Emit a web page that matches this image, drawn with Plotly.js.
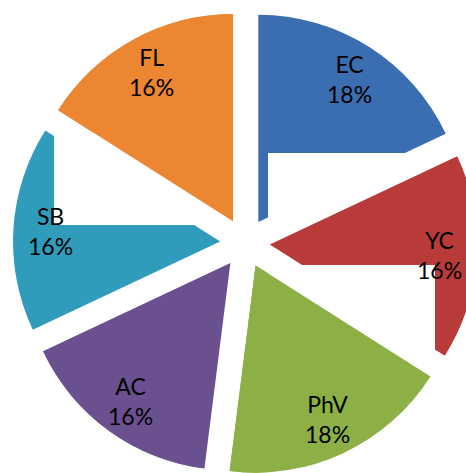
<!DOCTYPE html>
<html><head><meta charset="utf-8">
<script src="https://cdn.plot.ly/plotly-3.0.1.min.js"></script>
<style>
html,body{margin:0;padding:0;overflow:hidden;background:#fff;width:466px;height:473px;position:relative}
.layer{position:absolute;left:0;top:0;width:490px;height:490px}
</style>
</head><body>
<div id="base" class="layer"></div>
<div id="mid" class="layer"></div>
<div id="top" class="layer"></div>
<script>
// ---- data ----
const categories = ['EC', 'YC', 'PhV', 'AC', 'SB', 'FL'];
const values = [18, 16, 18, 16, 16, 16];
const colors = ['#3b6eb1', '#b83b39', '#8cb045', '#6b5090', '#2f9cbb', '#ec8630'];

// ---- style / geometry ----
const PULL = 0.12;
const LABEL_R = 0.82;
const CLEAR = 'rgba(0,0,0,0)';
const total = values.reduce((a, b) => a + b, 0);

function pieTrace(visibleSet) {
  return {
    type: 'pie',
    labels: categories,
    values: values,
    sort: false,
    direction: 'clockwise',
    rotation: 0,
    pull: values.map(() => PULL),
    marker: {
      colors: categories.map((c, i) => visibleSet.includes(c) ? colors[i] : CLEAR),
      line: {width: 0}
    },
    textinfo: 'none',
    hoverinfo: 'none',
    showlegend: false
  };
}

function baseLayout(bg, shapes, annotations) {
  return {
    width: 490, height: 490,
    margin: {l: 13, r: 13, t: 11, b: 15, pad: 0},
    paper_bgcolor: bg, plot_bgcolor: bg,
    showlegend: false,
    shapes: shapes || [],
    annotations: annotations || []
  };
}

function rect(x0, x1, y0, y1) {
  // pixel coords in the 464px plot square (origin at page px 13,11)
  return {
    type: 'rect', xref: 'paper', yref: 'paper', layer: 'below',
    x0: (x0 - 13) / 464, x1: (x1 - 13) / 464,
    y0: 1 - (y1 - 11) / 464, y1: 1 - (y0 - 11) / 464,
    fillcolor: '#ffffff', line: {width: 0}
  };
}

// label annotations, placed along each slice bisector
const rPaper = 1 / (2 * (1 + PULL));
let cum = 0;
const annotations = categories.map((c, i) => {
  const mid = (cum + values[i] / 2) / total * 2 * Math.PI;
  cum += values[i];
  const dist = (PULL + LABEL_R) * rPaper;
  return {
    xref: 'paper', yref: 'paper',
    x: 0.5 + dist * Math.sin(mid),
    y: 0.5 + dist * Math.cos(mid),
    xanchor: 'center', yanchor: 'middle',
    showarrow: false,
    text: c + '<br>' + Math.round(values[i] / total * 100) + '%',
    font: {family: 'Lato, "Open Sans", sans-serif', size: 23, color: '#000'}
  };
});

const cfg = {staticPlot: true, displayModeBar: false};

Plotly.newPlot('base', [pieTrace(categories)], baseLayout('#ffffff'), cfg);
Plotly.newPlot('mid', [pieTrace(['YC', 'FL'])],
  baseLayout(CLEAR, [rect(268, 500, 153, 265), rect(54, 233, 133, 225)]), cfg);
Plotly.newPlot('top', [pieTrace(['PhV'])],
  baseLayout(CLEAR, [rect(268, 435, 265, 500)], annotations), cfg);
</script>
</body></html>
